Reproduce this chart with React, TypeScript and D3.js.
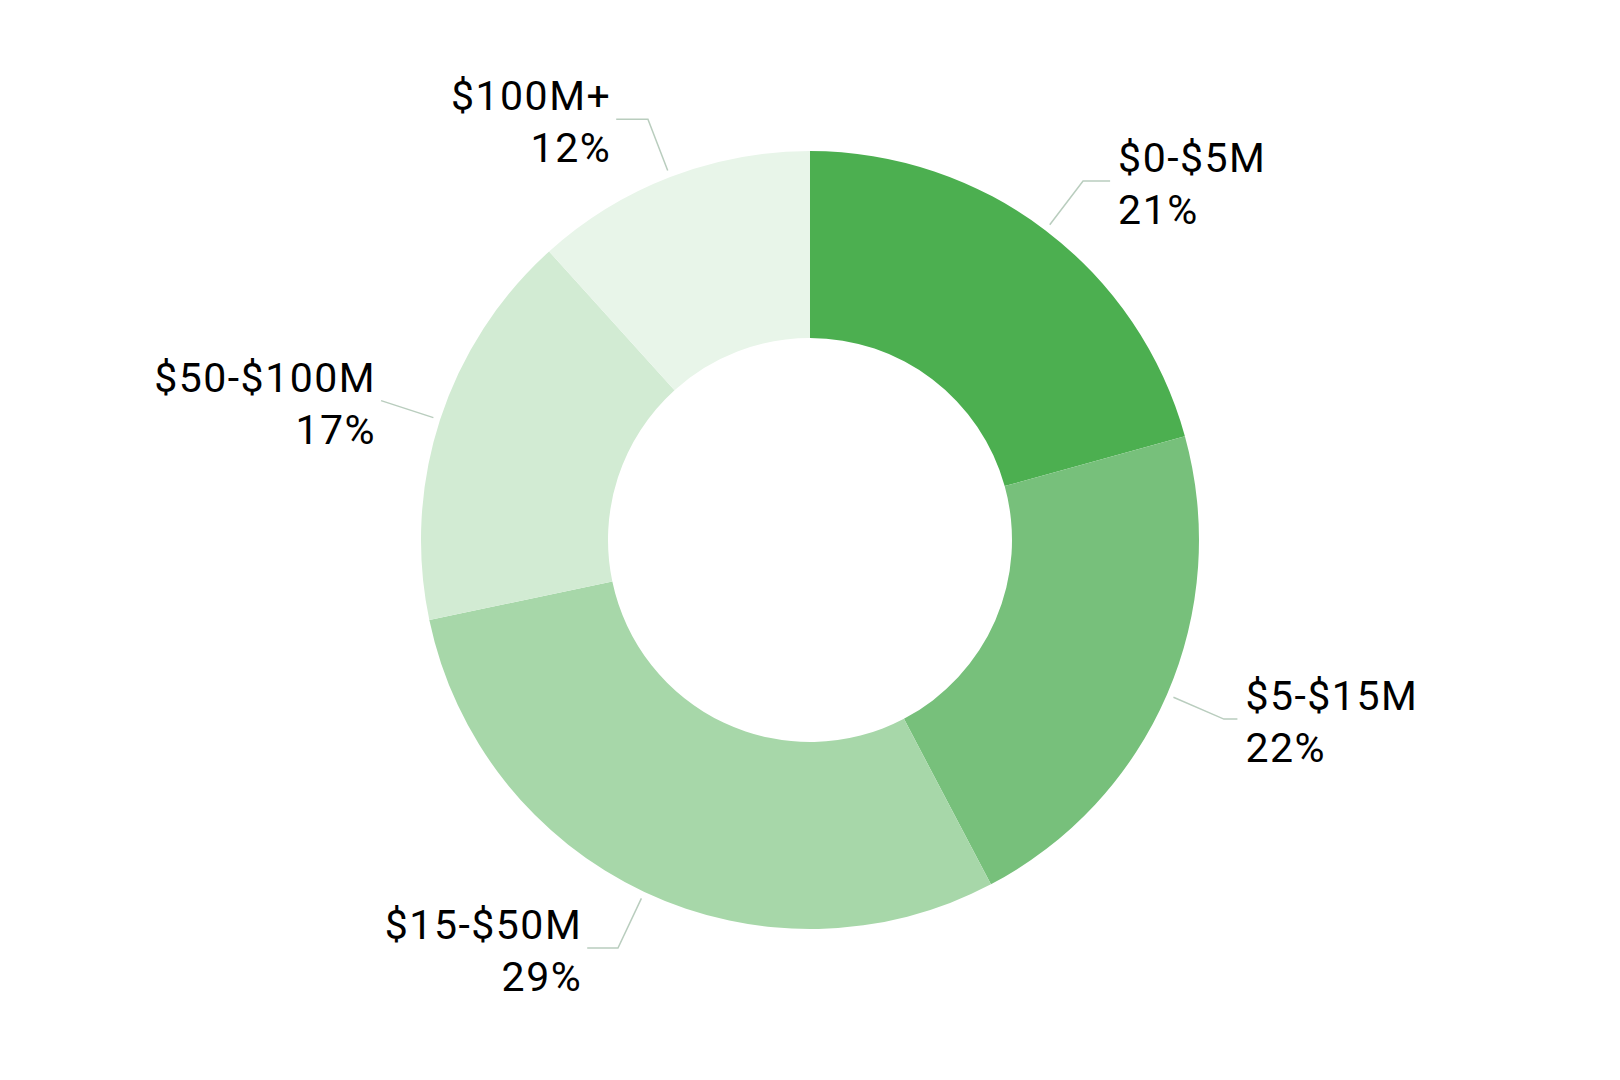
import React, { useRef, useEffect } from 'react';
import * as d3 from 'd3';

// revenue bands, clockwise from 12 o'clock
const categories = ['$0-$5M', '$5-$15M', '$15-$50M', '$50-$100M', '$100M+'];
// share of total (%)
const shares = [20.7, 21.6, 29.4, 16.6, 11.7];
const colors = ['#4caf50', '#77c07b', '#a7d7a9', '#d2ebd3', '#e8f5e9'];

type Slice = { name: string; value: number; color: string };

const data: Slice[] = categories.map((name, i) => ({ name, value: shares[i], color: colors[i] }));

const App: React.FC = () => {
  const ref = useRef<SVGSVGElement>(null);
  const width = 1620;
  const height = 1080;

  useEffect(() => {
    const svg = d3.select(ref.current);
    svg.selectAll('*').remove();

    const outer = 389;
    const inner = 202;
    const g = svg.append('g').attr('transform', `translate(${width / 2},${height / 2})`);

    const pie = d3.pie<Slice>().sort(null).value(d => d.value);
    const arcs = pie(data);
    const total = d3.sum(data, d => d.value);

    const arc = d3.arc<d3.PieArcDatum<Slice>>().innerRadius(inner).outerRadius(outer);

    g.selectAll('path.slice')
      .data(arcs)
      .join('path')
      .attr('class', 'slice')
      .attr('fill', d => d.data.color)
      .attr('d', arc);

    // leader lines + labels
    const lineStart = d3.arc<d3.PieArcDatum<Slice>>().innerRadius(outer + 7).outerRadius(outer + 7);
    const lineBend = d3.arc<d3.PieArcDatum<Slice>>().innerRadius(outer + 62).outerRadius(outer + 62);

    arcs.forEach(d => {
      const mid = (d.startAngle + d.endAngle) / 2;
      const side = Math.sin(mid) >= 0 ? 1 : -1;
      const [x0, y0] = lineStart.centroid(d);
      const [x1, y1] = lineBend.centroid(d);
      // horizontal tail shrinks near 3 / 9 o'clock, drops out when almost level
      const c = Math.abs(Math.cos(mid));
      const x2 = x1 + side * (c < 0.35 ? 0 : 34 * c);

      g.append('path')
        .attr('fill', 'none')
        .attr('stroke', '#b9cdbe')
        .attr('stroke-width', 1.5)
        .attr('d', d3.line()([[x0, y0], [x1, y1], [x2, y1]]));

      const tx = x2 + side * (side > 0 ? 8 : 5);
      const text = g.append('text')
        .attr('text-anchor', side > 0 ? 'start' : 'end')
        .attr('font-family', 'Roboto, sans-serif')
        .attr('font-size', 41)
        .attr('letter-spacing', 1.5)
        .attr('fill', '#000');
      text.append('tspan').attr('x', tx).attr('y', y1 - 9).text(d.data.name);
      text.append('tspan').attr('x', tx).attr('y', y1 + 43)
        .text(`${Math.round((d.data.value / total) * 100)}%`);
    });
  }, []);

  return (
    <svg
      ref={ref}
      width={width}
      height={height}
      style={{ position: 'absolute', left: 0, top: 0, background: '#fff' }}
    />
  );
};

export default App;
